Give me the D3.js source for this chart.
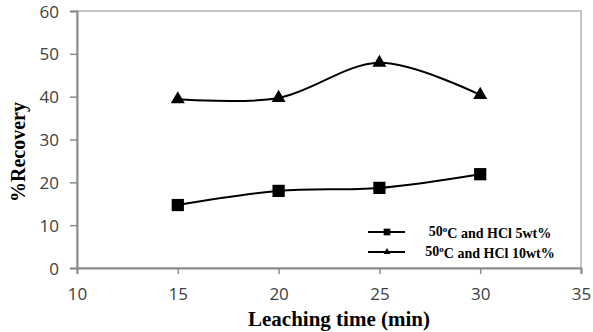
<!DOCTYPE html>
<html>
<head>
<meta charset="utf-8">
<script src="https://cdnjs.cloudflare.com/ajax/libs/d3/7.8.5/d3.min.js"></script>
<style>
  body { margin: 0; background: #fff; }
  svg { display: block; }
</style>
</head>
<body>
<div id="chart"></div>
<script>
// leaching time (min)
const times = [15, 20, 25, 30];
// % recovery
const hcl5 = [14.7, 18.0, 18.7, 21.9];
const hcl10 = [39.4, 39.7, 47.9, 40.4];
const xTicks = [10, 15, 20, 25, 30, 35];
const yTicks = [0, 10, 20, 30, 40, 50, 60];
const seriesNames = ["C and HCl 5wt%", "C and HCl 10wt%"];

const width = 593, height = 332;
const margin = { top: 11, right: 12, bottom: 64, left: 77 };
const innerW = width - margin.left - margin.right;
const innerH = height - margin.top - margin.bottom;

const svg = d3.select("#chart")
  .append("svg")
  .attr("width", width)
  .attr("height", height);

const g = svg.append("g")
  .attr("transform", "translate(" + margin.left + "," + margin.top + ")");

const x = d3.scaleLinear().domain([10, 35]).range([0, innerW]);
const y = d3.scaleLinear().domain([0, 60]).range([innerH, 0]);

// plot frame
g.append("rect")
  .attr("x", 0).attr("y", 0)
  .attr("width", innerW).attr("height", innerH)
  .attr("fill", "none")
  .attr("stroke", "#b4b4b4")
  .attr("stroke-width", 1.5);

// axes
const xAxis = g.append("g")
  .attr("transform", "translate(0," + innerH + ")")
  .call(d3.axisBottom(x).tickValues(xTicks).tickSize(6).tickPadding(17).tickFormat(d3.format("d")));

const yAxis = g.append("g")
  .call(d3.axisLeft(y).tickValues(yTicks).tickSize(7).tickPadding(11).tickFormat(d3.format("d")));

[xAxis, yAxis].forEach(ax => {
  ax.select(".domain").attr("stroke", "#8c8c8c").attr("stroke-width", 2);
  ax.selectAll(".tick line").attr("stroke", "#8c8c8c").attr("stroke-width", 1.5);
  ax.selectAll(".tick text")
    .attr("fill", "#404040")
    .attr("font-family", "'Open Sans', sans-serif")
    .attr("font-size", 17);
});
yAxis.selectAll(".tick text").attr("dy", "0.36em");
xAxis.selectAll(".tick text").attr("dy", "0.5em");

// lines
const pts5 = times.map((t, i) => [t, hcl5[i]]);
const pts10 = times.map((t, i) => [t, hcl10[i]]);

const line = d3.line()
  .x(d => x(d[0]))
  .y(d => y(d[1]))
  .curve(d3.curveCardinal.tension(0));

g.append("path").datum(pts5)
  .attr("d", line)
  .attr("fill", "none").attr("stroke", "#000").attr("stroke-width", 2);

g.append("path").datum(pts10)
  .attr("d", line)
  .attr("fill", "none").attr("stroke", "#000").attr("stroke-width", 2);

const square = d3.symbol().type(d3.symbolSquare).size(150);
const triangle = d3.symbol().type(d3.symbolTriangle).size(85);

g.selectAll(".sq").data(pts5).enter()
  .append("path")
  .attr("transform", d => "translate(" + x(d[0]) + "," + y(d[1]) + ")")
  .attr("d", square)
  .attr("fill", "#000");

g.selectAll(".tri").data(pts10).enter()
  .append("path")
  .attr("transform", d => "translate(" + x(d[0]) + "," + y(d[1]) + ")")
  .attr("d", triangle)
  .attr("fill", "#000");

// legend
const legend = g.append("g").attr("transform", "translate(" + (368 - margin.left) + "," + (232 - margin.top) + ")");
const legendSymbols = [d3.symbol().type(d3.symbolSquare).size(45), d3.symbol().type(d3.symbolTriangle).size(20)];
seriesNames.forEach((name, i) => {
  const row = legend.append("g").attr("transform", "translate(0," + (i * 20) + ")");
  row.append("line")
    .attr("x1", 0).attr("x2", 37).attr("y1", 0).attr("y2", 0)
    .attr("stroke", "#000").attr("stroke-width", 2);
  row.append("path")
    .attr("transform", "translate(19,0)")
    .attr("d", legendSymbols[i])
    .attr("fill", "#000");
  const t = row.append("text")
    .attr("x", 122)
    .attr("y", 4)
    .attr("text-anchor", "middle")
    .attr("font-family", "'Liberation Serif', 'Times New Roman', serif")
    .attr("font-weight", "bold")
    .attr("font-size", 14)
    .attr("fill", "#000");
  t.append("tspan").text("50");
  t.append("tspan").attr("dy", "-0.4em").attr("font-size", 9).text("o");
  t.append("tspan").attr("dy", "0.4em").text(name);
});

// axis titles
svg.append("text")
  .attr("x", 339)
  .attr("y", 326)
  .attr("text-anchor", "middle")
  .attr("font-family", "'Liberation Serif', 'Times New Roman', serif")
  .attr("font-weight", "bold")
  .attr("font-size", 21)
  .text("Leaching time (min)");

svg.append("text")
  .attr("transform", "translate(25," + 152 + ") rotate(-90)")
  .attr("text-anchor", "middle")
  .attr("font-family", "'Liberation Serif', 'Times New Roman', serif")
  .attr("font-weight", "bold")
  .attr("font-size", 20)
  .text("%Recovery");
</script>
</body>
</html>
